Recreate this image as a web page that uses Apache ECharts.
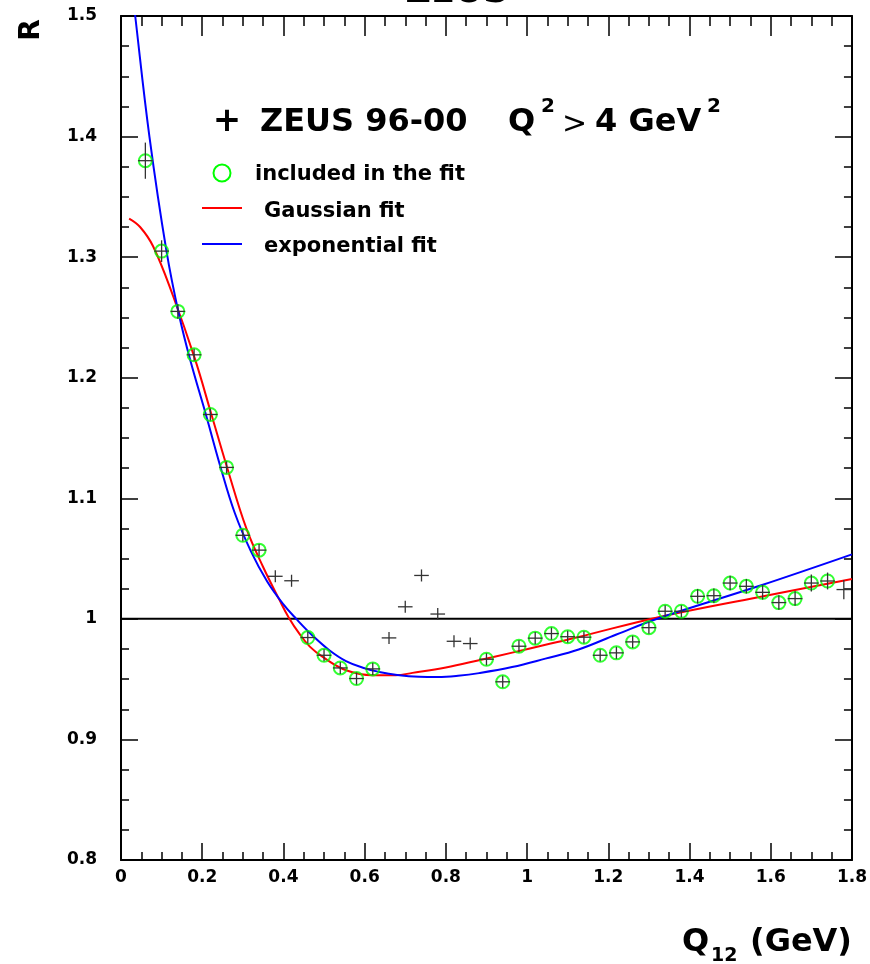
<!DOCTYPE html>
<html>
<head>
<meta charset="utf-8">
<script src="https://cdn.jsdelivr.net/npm/echarts@6/dist/echarts.min.js"></script>
<style>
  html, body { margin: 0; padding: 0; background: #fff; }
  #chart { width: 870px; height: 964px; }
</style>
</head>
<body>
<div id="chart"></div>
<script>
// ZEUS 96-00 measurement, Q12 bins
const q12 = [0.06, 0.10, 0.14, 0.18, 0.22, 0.26, 0.30, 0.34, 0.38, 0.42,
  0.46, 0.50, 0.54, 0.58, 0.62, 0.66, 0.70, 0.74, 0.78, 0.82,
  0.86, 0.90, 0.94, 0.98, 1.02, 1.06, 1.10, 1.14, 1.18, 1.22,
  1.26, 1.30, 1.34, 1.38, 1.42, 1.46, 1.50, 1.54, 1.58, 1.62,
  1.66, 1.70, 1.74, 1.78];
const ratioR = [1.380, 1.305, 1.255, 1.219, 1.1695, 1.1256, 1.0693, 1.0570, 1.0353, 1.0316,
  0.9845, 0.9698, 0.9593, 0.9505, 0.9585, 0.9842, 1.0100, 1.0360, 1.0040, 0.9814,
  0.9795, 0.9665, 0.9478, 0.9773, 0.9840, 0.9878, 0.9852, 0.9848, 0.9698, 0.9718,
  0.9809, 0.9927, 1.0063, 1.0063, 1.0187, 1.0192, 1.0297, 1.0270, 1.0220, 1.0135,
  1.0168, 1.0297, 1.0314, 1.0243];
const ratioErr = [0.015, 0.009, 0.006, 0.005, 0.005, 0.005, 0.005, 0.005, 0.005, 0.005,
  0.005, 0.005, 0.005, 0.005, 0.005, 0.005, 0.005, 0.005, 0.005, 0.005,
  0.005, 0.005, 0.005, 0.005, 0.005, 0.005, 0.005, 0.005, 0.005, 0.005,
  0.005, 0.005, 0.005, 0.005, 0.006, 0.006, 0.006, 0.006, 0.006, 0.006,
  0.006, 0.007, 0.007, 0.008];
// 1 = point used in the fit (green circle)
const inFit = [1, 1, 1, 1, 1, 1, 1, 1, 0, 0,
  1, 1, 1, 1, 1, 0, 0, 0, 0, 0,
  0, 1, 1, 1, 1, 1, 1, 1, 1, 1,
  1, 1, 1, 1, 1, 1, 1, 1, 1, 1,
  1, 1, 1, 0];
const binHalfWidth = 0.018;

// fit curves
const gaussFit = [[0.02, 1.332], [0.047, 1.325], [0.079, 1.309], [0.128, 1.268], [0.1817, 1.216],
  [0.2227, 1.1695], [0.2611, 1.1258], [0.3087, 1.075], [0.35, 1.043], [0.3905, 1.0155],
  [0.4133, 1.001], [0.4396, 0.9875], [0.465, 0.977], [0.4968, 0.9684], [0.5543, 0.9574],
  [0.6196, 0.9533], [0.677, 0.9533], [0.7178, 0.9552], [0.80, 0.9597], [0.8816, 0.9657],
  [0.9634, 0.9720], [1.0454, 0.9785], [1.1272, 0.9850], [1.3237, 1.0014], [1.5693, 1.0180],
  [1.80, 1.0330]];
const expoFit = [[0.02, 1.545], [0.035, 1.500], [0.07, 1.400], [0.112, 1.305], [0.143, 1.252],
  [0.171, 1.214], [0.209, 1.1695], [0.245, 1.126], [0.28, 1.088], [0.32, 1.056],
  [0.36, 1.031], [0.40, 1.012], [0.4315, 1.000], [0.472, 0.986], [0.513, 0.974],
  [0.554, 0.965], [0.60, 0.959], [0.636, 0.956], [0.68, 0.9535], [0.734, 0.952],
  [0.78, 0.9518], [0.83, 0.9528], [0.882, 0.955], [0.963, 0.960], [1.045, 0.967],
  [1.127, 0.9746], [1.22, 0.987], [1.324, 1.0005], [1.569, 1.027], [1.80, 1.0535]];
const unityLine = [[0, 1], [1.8, 1]];

const xRange = [0, 1.8];
const yRange = [0.8, 1.5];

const FONT = "DejaVu Sans";

const crossData = q12.map(function (x, i) { return [x, ratioR[i], ratioErr[i]]; });
const circleData = q12.map(function (x, i) { return [x, ratioR[i]]; })
  .filter(function (p, i) { return inFit[i] === 1; });

function axisBase(extra) {
  return Object.assign({
    type: "value",
    axisLine: { show: true, onZero: false, lineStyle: { color: "#000", width: 2 } },
    axisTick: { show: true, inside: true, length: 17, lineStyle: { color: "#000", width: 1.5 } },
    minorTick: { show: true, splitNumber: 4, length: 8, lineStyle: { color: "#000", width: 1.5 } },
    splitLine: { show: false },
    axisLabel: { color: "#000", fontFamily: FONT, fontWeight: "bold", fontSize: 17 },
  }, extra);
}

const chart = echarts.init(document.getElementById("chart"), null, { renderer: "canvas" });

chart.setOption({
  animation: false,
  backgroundColor: "#fff",
  grid: { left: 121, right: 16, top: 16, bottom: 104, containLabel: false },
  xAxis: [
    axisBase({ min: xRange[0], max: xRange[1], interval: 0.2, position: "bottom",
      axisLabel: { color: "#000", fontFamily: FONT, fontWeight: "bold", fontSize: 17, margin: 9 } }),
    axisBase({ min: xRange[0], max: xRange[1], interval: 0.2, position: "top",
      axisTick: { show: true, inside: true, length: 20, lineStyle: { color: "#000", width: 1.5 } },
      minorTick: { show: true, splitNumber: 4, length: 10, lineStyle: { color: "#000", width: 1.5 } },
      axisLabel: { show: false } }),
  ],
  yAxis: [
    axisBase({ min: yRange[0], max: yRange[1], interval: 0.1, position: "left",
      axisLabel: { color: "#000", fontFamily: FONT, fontWeight: "bold", fontSize: 17, margin: 24 } }),
    axisBase({ min: yRange[0], max: yRange[1], interval: 0.1, position: "right",
      axisLabel: { show: false } }),
  ],
  series: [
    {
      name: "unity",
      type: "line",
      data: unityLine,
      symbol: "none",
      lineStyle: { color: "#000", width: 2 },
      z: 2,
    },
    {
      name: "Gaussian fit",
      type: "line",
      data: gaussFit,
      symbol: "none",
      smooth: 0.4,
      lineStyle: { color: "#ff0000", width: 2 },
      z: 4,
    },
    {
      name: "exponential fit",
      type: "line",
      data: expoFit,
      symbol: "none",
      smooth: 0.4,
      lineStyle: { color: "#0000ff", width: 2 },
      z: 5,
    },
    {
      name: "included in the fit",
      type: "scatter",
      data: circleData,
      symbol: "circle",
      symbolSize: 13,
      itemStyle: { color: "rgba(0,0,0,0)", borderColor: "#00ff00", borderWidth: 2 },
      z: 6,
    },
    {
      name: "ZEUS 96-00",
      type: "custom",
      data: crossData,
      renderItem: function (params, api) {
        const x = api.value(0);
        const y = api.value(1);
        const e = api.value(2);
        const l = api.coord([x - binHalfWidth, y]);
        const r = api.coord([x + binHalfWidth, y]);
        const t = api.coord([x, y + e]);
        const b = api.coord([x, y - e]);
        const st = { stroke: "#333", lineWidth: 1.3 };
        return {
          type: "group",
          children: [
            { type: "line", shape: { x1: l[0], y1: l[1], x2: r[0], y2: r[1] }, style: st },
            { type: "line", shape: { x1: t[0], y1: t[1], x2: b[0], y2: b[1] }, style: st },
          ],
        };
      },
      z: 7,
    },
  ],
  graphic: [
    { type: "text", x: 457, y: -7, style: { text: "ZEUS", font: "bold 35px '" + FONT + "'", fill: "#000", align: "center", verticalAlign: "middle" } },
    { type: "text", x: 32, y: 30, rotation: Math.PI / 2, style: { text: "R", font: "bold 28px '" + FONT + "'", fill: "#000", align: "center", verticalAlign: "middle" } },
    // axis title Q12 (GeV)
    { type: "text", x: 682, y: 943, style: { text: "Q", font: "bold 32px '" + FONT + "'", fill: "#000", align: "left", verticalAlign: "middle" } },
    { type: "text", x: 711, y: 956, style: { text: "12", font: "bold 19px '" + FONT + "'", fill: "#000", align: "left", verticalAlign: "middle" } },
    { type: "text", x: 750, y: 943, style: { text: "(GeV)", font: "bold 32px '" + FONT + "'", fill: "#000", align: "left", verticalAlign: "middle" } },
    // legend header
    { type: "text", x: 227, y: 122, style: { text: "+", font: "bold 34px '" + FONT + "'", fill: "#000", align: "center", verticalAlign: "middle" } },
    { type: "text", x: 260, y: 123, style: { text: "ZEUS 96-00", font: "bold 32px '" + FONT + "'", fill: "#000", align: "left", verticalAlign: "middle" } },
    { type: "text", x: 508, y: 123, style: { text: "Q", font: "bold 32px '" + FONT + "'", fill: "#000", align: "left", verticalAlign: "middle" } },
    { type: "text", x: 541, y: 107, style: { text: "2", font: "bold 20px '" + FONT + "'", fill: "#000", align: "left", verticalAlign: "middle" } },
    { type: "text", x: 562, y: 125, style: { text: ">", font: "30px '" + FONT + "'", fill: "#000", align: "left", verticalAlign: "middle" } },
    { type: "text", x: 595, y: 123, style: { text: "4 GeV", font: "bold 32px '" + FONT + "'", fill: "#000", align: "left", verticalAlign: "middle" } },
    { type: "text", x: 707, y: 107, style: { text: "2", font: "bold 20px '" + FONT + "'", fill: "#000", align: "left", verticalAlign: "middle" } },
    // legend entries
    { type: "circle", shape: { cx: 222, cy: 173, r: 8.5 }, style: { fill: "none", stroke: "#00ff00", lineWidth: 2 } },
    { type: "text", x: 255, y: 175, style: { text: "included in the fit", font: "bold 21px '" + FONT + "'", fill: "#000", align: "left", verticalAlign: "middle" } },
    { type: "line", shape: { x1: 202, y1: 208, x2: 242, y2: 208 }, style: { stroke: "#ff0000", lineWidth: 2 } },
    { type: "text", x: 264, y: 212, style: { text: "Gaussian fit", font: "bold 21px '" + FONT + "'", fill: "#000", align: "left", verticalAlign: "middle" } },
    { type: "line", shape: { x1: 202, y1: 244, x2: 242, y2: 244 }, style: { stroke: "#0000ff", lineWidth: 2 } },
    { type: "text", x: 264, y: 247, style: { text: "exponential fit", font: "bold 21px '" + FONT + "'", fill: "#000", align: "left", verticalAlign: "middle" } },
  ],
});
</script>
</body>
</html>
